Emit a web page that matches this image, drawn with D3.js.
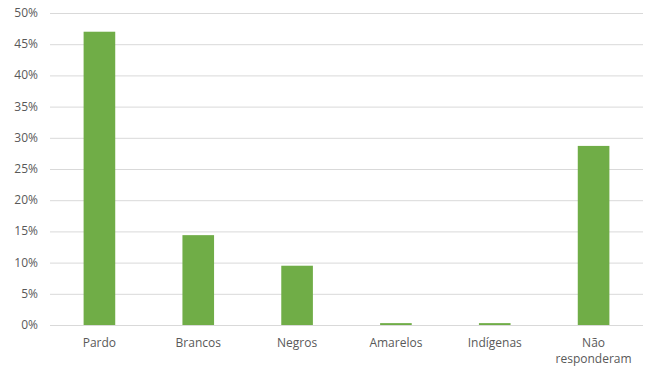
<!DOCTYPE html>
<html>
<head>
<meta charset="utf-8">
<script src="https://cdn.jsdelivr.net/npm/d3@7"></script>
<style>
  body { margin: 0; background: #fff; }
  text { font-family: "Open Sans", "Noto Sans", sans-serif; fill: #595959; font-size: 12px; }
</style>
</head>
<body>
<div id="chart"></div>
<script>
const categories = ["Pardo", "Brancos", "Negros", "Amarelos", "Indígenas", "Não responderam"];
const values = [0.47, 0.144, 0.095, 0.003, 0.003, 0.287];
const yTicks = [0, 0.05, 0.10, 0.15, 0.20, 0.25, 0.30, 0.35, 0.40, 0.45, 0.50];

const width = 647, height = 369;
const margin = { top: 13, right: 4, bottom: 44, left: 50 };

const svg = d3.select("#chart").append("svg")
    .attr("width", width)
    .attr("height", height);

const x = d3.scaleBand()
    .domain(categories)
    .range([margin.left, width - margin.right])
    .paddingInner(0.68)
    .paddingOuter(0.34);

const y = d3.scaleLinear()
    .domain([0, 0.5])
    .range([height - margin.bottom, margin.top]);

// grid lines
svg.append("g").selectAll("line")
    .data(yTicks)
    .enter().append("line")
    .attr("x1", margin.left)
    .attr("x2", width - margin.right)
    .attr("y1", d => y(d) + 0.5)
    .attr("y2", d => y(d) + 0.5)
    .attr("stroke", "#d9d9d9")
    .attr("stroke-width", 1);

// y labels
svg.append("g").selectAll("text")
    .data(yTicks)
    .enter().append("text")
    .attr("x", 38)
    .attr("y", d => y(d) + 4)
    .attr("text-anchor", "end")
    .text(d => d3.format(".0%")(d));

// bars
svg.append("g").selectAll("rect")
    .data(values)
    .enter().append("rect")
    .attr("x", (d, i) => x(categories[i]))
    .attr("y", d => y(d))
    .attr("width", x.bandwidth())
    .attr("height", d => y(0) - y(d))
    .attr("fill", "#70ad47");

// x labels
const xl = svg.append("g").selectAll("text")
    .data(categories)
    .enter().append("text")
    .attr("x", d => x(d) + x.bandwidth() / 2)
    .attr("y", height - margin.bottom + 22)
    .attr("text-anchor", "middle");

xl.each(function (d) {
    const words = d === "Não responderam" ? ["Não", "responderam"] : [d];
    d3.select(this).selectAll("tspan")
        .data(words)
        .enter().append("tspan")
        .attr("x", x(d) + x.bandwidth() / 2)
        .attr("dy", (w, i) => i === 0 ? 0 : 16)
        .text(w => w);
});
</script>
</body>
</html>
